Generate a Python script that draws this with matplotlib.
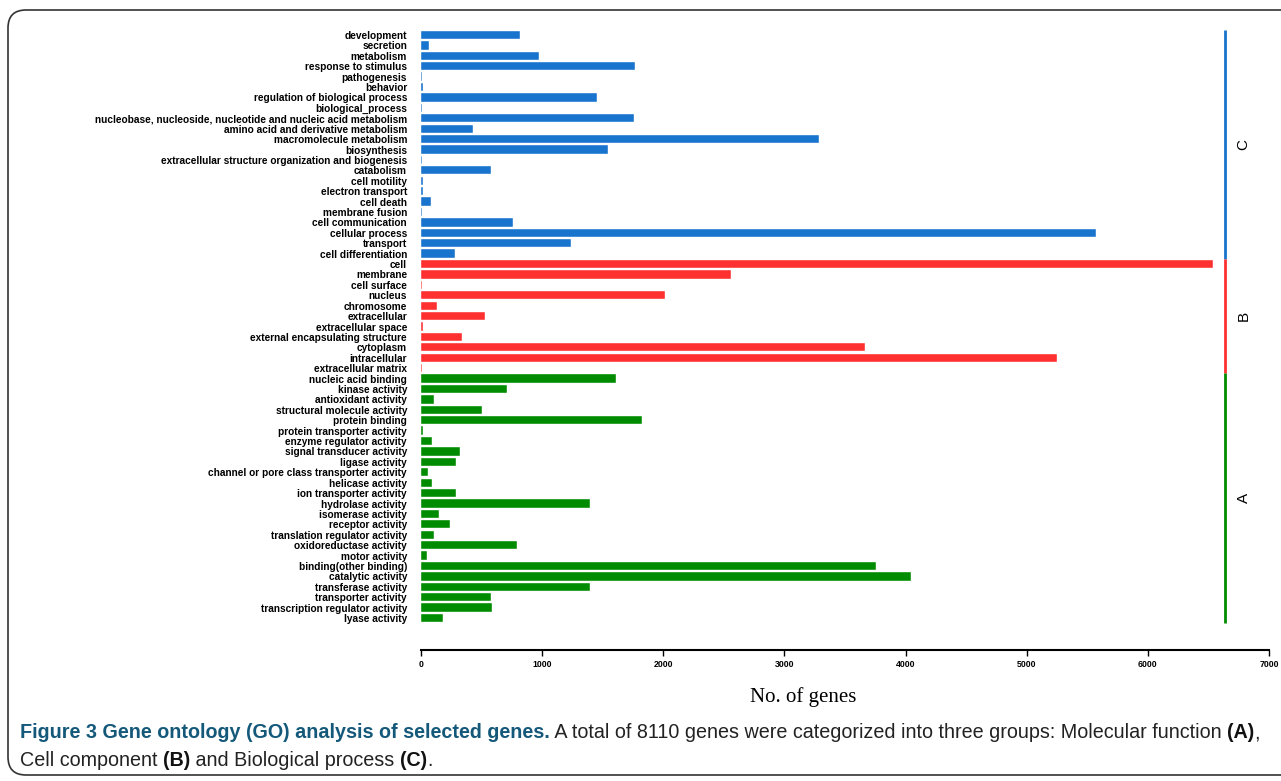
import matplotlib
matplotlib.use("Agg")
import matplotlib.pyplot as plt
from matplotlib.patches import FancyBboxPatch

# GO categories, top to bottom
bio_terms = ["development", "secretion", "metabolism", "response to stimulus",
             "pathogenesis", "behavior", "regulation of biological process",
             "biological_process",
             "nucleobase, nucleoside, nucleotide and nucleic acid metabolism",
             "amino acid and derivative metabolism", "macromolecule metabolism",
             "biosynthesis", "extracellular structure organization and biogenesis",
             "catabolism", "cell motility", "electron transport", "cell death",
             "membrane fusion", "cell communication", "cellular process",
             "transport", "cell differentiation"]
bio_counts = [815, 66, 970, 1767, 8, 18, 1454, 8, 1756, 431, 3287, 1545, 8,
              579, 18, 18, 85, 8, 756, 5570, 1236, 284]

cell_terms = ["cell", "membrane", "cell surface", "nucleus", "chromosome",
              "extracellular", "extracellular space",
              "external encapsulating structure", "cytoplasm", "intracellular",
              "extracellular matrix"]
cell_counts = [6540, 2555, 8, 2015, 130, 530, 20, 335, 3665, 5250, 8]

mol_terms = ["nucleic acid binding", "kinase activity", "antioxidant activity",
             "structural molecule activity", "protein binding",
             "protein transporter activity", "enzyme regulator activity",
             "signal transducer activity", "ligase activity",
             "channel or pore class transporter activity", "helicase activity",
             "ion transporter activity", "hydrolase activity",
             "isomerase activity", "receptor activity",
             "translation regulator activity", "oxidoreductase activity",
             "motor activity", "binding(other binding)", "catalytic activity",
             "transferase activity", "transporter activity",
             "transcription regulator activity", "lyase activity"]
mol_counts = [1612, 708, 105, 501, 1826, 19, 94, 325, 287, 58, 94, 287, 1394,
              151, 240, 105, 791, 47, 3752, 4044, 1394, 576, 587, 182]

groups = ["C", "B", "A"]
group_colors = ["#1874CD", "#FF3030", "#008B00"]
xticks = [0, 1000, 2000, 3000, 4000, 5000, 6000, 7000]

W, H = 1281, 781
fig = plt.figure(figsize=(W / 100, H / 100), dpi=100)
ax = fig.add_axes([421 / W, 1 - 650 / H, (1269 - 421) / W, 622 / H])

terms = bio_terms + cell_terms + mol_terms
counts = bio_counts + cell_counts + mol_counts
sizes = [len(bio_terms), len(cell_terms), len(mol_terms)]
colors = []
for c, n in zip(group_colors, sizes):
    colors += [c] * n
ypos = list(range(len(terms)))

ax.barh(ypos, counts, height=0.8, color=colors, edgecolor="white",
        linewidth=0.3)
ax.set_xlim(0, 7000)
ax.set_ylim(59.07, -0.67)

ax.set_yticks(ypos)
ax.set_yticklabels(terms, family="Liberation Sans", weight="bold", size=7.25)
ax.tick_params(axis="y", length=0, pad=10)

ax.set_xticks(xticks)
ax.set_xticklabels([str(t) for t in xticks], family="Liberation Sans",
                   weight="bold", size=6.3)
ax.tick_params(axis="x", length=4, width=1, pad=3)

for s in ["left", "right", "top"]:
    ax.spines[s].set_visible(False)
ax.spines["bottom"].set_linewidth(1.5)

# group bars on the right
start = -0.5
for g, c, n in zip(groups, group_colors, sizes):
    end = start + n
    ax.plot([6636, 6636], [start, end], color=c, lw=2, solid_capstyle="butt")
    ax.text(6790, (start + end) / 2, g, rotation=90, ha="center", va="center",
            fontsize=11, family="Liberation Sans")
    start = end

fig.text(803 / W, 1 - 697 / H, "No. of genes", family="Liberation Serif",
         fontsize=15, ha="center", va="center")

# caption, pieces laid side by side
lines = [
    [("Figure 3 Gene ontology (GO) analysis of selected genes.", "bold", "#14587a"),
     (" A total of 8110 genes were categorized into three groups: Molecular function ", "normal", "#222222"),
     ("(A)", "bold", "#111111"), (",", "normal", "#222222")],
    [("Cell component ", "normal", "#222222"), ("(B)", "bold", "#111111"),
     (" and Biological process ", "normal", "#222222"), ("(C)", "bold", "#111111"),
     (".", "normal", "#222222")],
]
r = fig.canvas.get_renderer()
for line, yc in zip(lines, [733, 761]):
    x = 20
    for txt, wt, col in line:
        t = fig.text(x / W, 1 - yc / H, txt, family="Liberation Sans", weight=wt,
                     color=col, fontsize=14.2, ha="left", va="center")
        bb = t.get_window_extent(r)
        x = bb.x1

box = FancyBboxPatch((0.08, 0.06), 13.0, 7.65,
                     boxstyle="round,pad=0,rounding_size=0.18",
                     transform=fig.dpi_scale_trans, fill=False,
                     edgecolor="#333333", lw=1.2)
fig.add_artist(box)

fig.savefig("out.png", dpi=100)
